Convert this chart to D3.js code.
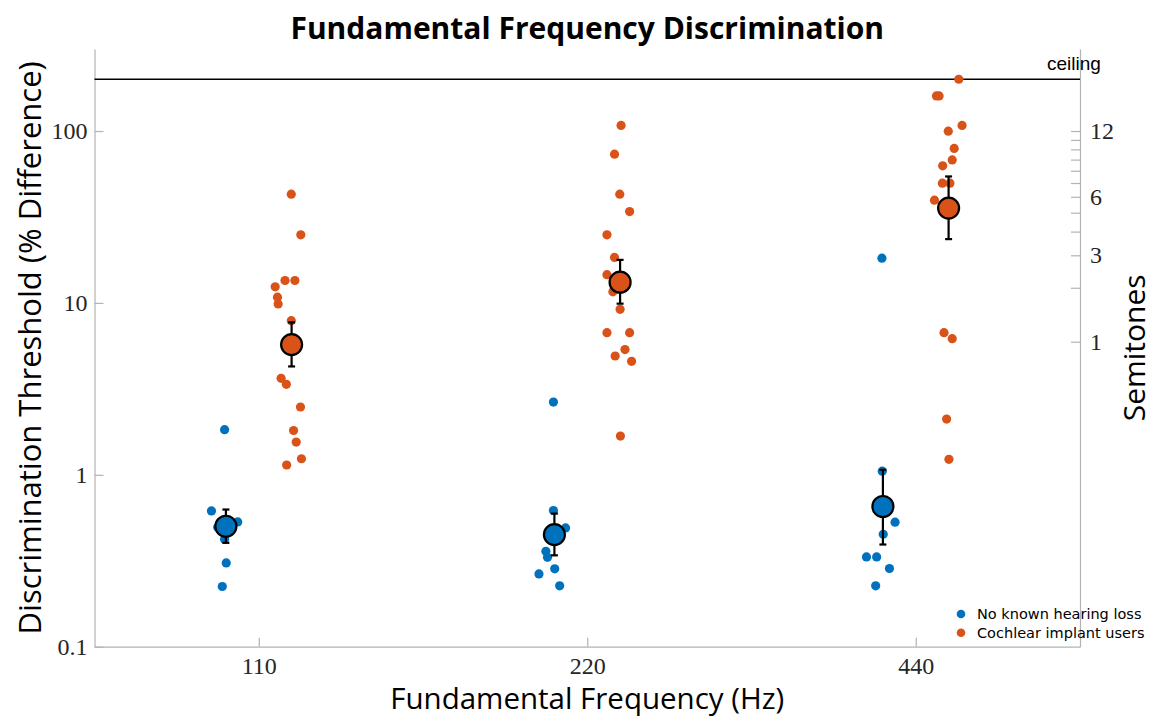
<!DOCTYPE html>
<html><head><meta charset="utf-8">
<script src="https://cdn.jsdelivr.net/npm/d3@7/dist/d3.min.js"></script>
<style>body{margin:0;background:#fff;} svg{display:block;}</style>
</head><body>
<svg id="chart" width="1153" height="720"></svg>
<script>
// ---------- data ----------
const frequencies = [110, 220, 440];
const freqTickLabels = ["110", "220", "440"];
const yTickValues = [0.1, 1, 10, 100];
const yTickLabels = ["0.1", "1", "10", "100"];
const semitoneLabelled = [1, 3, 6, 12];
const semitoneTicks = [1, 2, 3, 4, 5, 6, 7, 8, 9, 10, 11, 12];
const ceilingValue = 200;
const seriesNames = ["No known hearing loss", "Cochlear implant users"];

// individual thresholds (% difference) and horizontal jitter (octaves from nominal F0)
const nh110 = [1.83, 0.616, 0.532, 0.495, 0.422, 0.307, 0.224];
const nh110Jit = [-0.104, -0.144, -0.064, -0.125, -0.104, -0.099, -0.111];
const nh220 = [2.65, 0.62, 0.491, 0.359, 0.331, 0.284, 0.265, 0.226];
const nh220Jit = [-0.103, -0.103, -0.066, -0.126, -0.121, -0.099, -0.147, -0.084];
const nh440 = [18.2, 1.05, 0.530, 0.451, 0.333, 0.333, 0.285, 0.226];
const nh440Jit = [-0.103, -0.102, -0.063, -0.099, -0.150, -0.119, -0.080, -0.122];

const ci110 = [42.9, 24.9, 13.5, 13.5, 12.4, 10.8, 9.86, 7.88, 3.64, 3.36, 2.48, 1.81, 1.55, 1.24, 1.14];
const ci110Jit = [0.099, 0.128, 0.080, 0.110, 0.050, 0.057, 0.059, 0.099, 0.068, 0.084, 0.127, 0.106, 0.114, 0.130, 0.085];
const ci220 = [107.8, 73.3, 42.9, 34.0, 24.9, 18.4, 14.6, 11.6, 9.18, 6.71, 6.71, 5.35, 4.91, 4.57, 1.68];
const ci220Jit = [0.103, 0.083, 0.099, 0.129, 0.060, 0.083, 0.060, 0.078, 0.100, 0.060, 0.129, 0.115, 0.085, 0.135, 0.101];
const ci440 = [200, 160, 160, 107.8, 99.8, 79.2, 67.9, 62.7, 49.7, 49.7, 39.6, 6.71, 6.19, 2.11, 1.23];
const ci440Jit = [0.131, 0.063, 0.071, 0.141, 0.099, 0.117, 0.111, 0.082, 0.081, 0.104, 0.057, 0.086, 0.111, 0.094, 0.101];

// group means with error bar bounds
const nhMean = [0.502, 0.449, 0.654];
const nhLow = [0.402, 0.340, 0.393];
const nhHigh = [0.628, 0.595, 1.07];
const ciMean = [5.72, 13.2, 35.6];
const ciLow = [4.27, 9.9, 23.5];
const ciHigh = [7.7, 17.8, 54.4];
const groupOffset = [-0.1, 0.1]; // octaves

// ---------- layout ----------
const colors = ["#0072BD", "#D95319"];
const m = {left: 94.5, right: 1080, top: 49, bottom: 646.7};
const svg = d3.select("#chart");

const x = d3.scaleLog().base(2).domain([110 / Math.SQRT2, 440 * Math.SQRT2]).range([m.left, m.right]);
const y = d3.scaleLog().domain([0.1, 300]).range([m.bottom, m.top]);
const xOct = (f, oct) => x(f * Math.pow(2, oct));
const semiToPct = s => (Math.pow(2, s / 12) - 1) * 100;

const axisColor = "#b3b3b3";
const tickTextColor = "#262626";
const serif = "'Liberation Serif', 'DejaVu Serif', serif";
const sans = "'Open Sans', 'DejaVu Sans', sans-serif";

// axes (inward ticks)
const gL = svg.append("g").attr("transform", `translate(${m.left},0)`)
  .call(d3.axisLeft(y).tickValues(yTickValues).tickFormat((d, i) => yTickLabels[i]).tickSizeInner(-9).tickSizeOuter(0).tickPadding(7));
const gB = svg.append("g").attr("transform", `translate(0,${m.bottom})`)
  .call(d3.axisBottom(x).tickValues(frequencies).tickFormat((d, i) => freqTickLabels[i]).tickSizeInner(-9).tickSizeOuter(0).tickPadding(10));
const gR = svg.append("g").attr("transform", `translate(${m.right},0)`)
  .call(d3.axisRight(y).tickValues(semitoneTicks.map(semiToPct))
    .tickFormat((d, i) => semitoneLabelled.includes(semitoneTicks[i]) ? String(semitoneTicks[i]) : "")
    .tickSizeInner(-9).tickSizeOuter(0).tickPadding(10));

[gL, gB, gR].forEach(g => {
  g.select(".domain").attr("stroke", axisColor).attr("stroke-width", 1.2);
  g.selectAll(".tick line").attr("stroke", axisColor).attr("stroke-width", 1.2);
  g.selectAll(".tick text").attr("fill", tickTextColor).style("font-family", serif).style("font-size", "24px");
});

// ceiling line
svg.append("line").attr("x1", m.left).attr("x2", m.right).attr("y1", y(ceilingValue)).attr("y2", y(ceilingValue))
  .attr("stroke", "#000").attr("stroke-width", 1.5);
svg.append("text").attr("x", 1047).attr("y", y(ceilingValue) - 9).text("ceiling")
  .style("font-family", "'Liberation Sans', Arial, sans-serif").style("font-size", "19px").attr("fill", "#000");

// individual points
const groups = [
  [nh110, nh110Jit, 0, 0], [nh220, nh220Jit, 1, 0], [nh440, nh440Jit, 2, 0],
  [ci110, ci110Jit, 0, 1], [ci220, ci220Jit, 1, 1], [ci440, ci440Jit, 2, 1]
];
groups.forEach(([vals, jit, fi, si]) => {
  svg.append("g").selectAll("circle").data(vals).join("circle")
    .attr("cx", (d, i) => xOct(frequencies[fi], jit[i]))
    .attr("cy", d => y(d))
    .attr("r", 4.6)
    .attr("fill", colors[si]);
});

// means with error bars
const summaries = [[nhMean, nhLow, nhHigh, 0], [ciMean, ciLow, ciHigh, 1]];
summaries.forEach(([mean, lo, hi, si]) => {
  const g = svg.append("g");
  frequencies.forEach((f, i) => {
    const cx = xOct(f, groupOffset[si]);
    g.append("line").attr("x1", cx).attr("x2", cx).attr("y1", y(lo[i])).attr("y2", y(hi[i]))
      .attr("stroke", "#000").attr("stroke-width", 2.2);
    [lo[i], hi[i]].forEach(v => g.append("line").attr("x1", cx - 3.5).attr("x2", cx + 3.5).attr("y1", y(v)).attr("y2", y(v))
      .attr("stroke", "#000").attr("stroke-width", 2.2));
    g.append("circle").attr("cx", cx).attr("cy", y(mean[i])).attr("r", 10.5)
      .attr("fill", colors[si]).attr("stroke", "#000").attr("stroke-width", 2.2);
  });
});

// titles
svg.append("text").attr("x", (m.left + m.right) / 2).attr("y", 39).attr("text-anchor", "middle")
  .style("font-family", sans).style("font-weight", "bold").style("font-size", "30px").attr("fill", "#000")
  .text("Fundamental Frequency Discrimination");
svg.append("text").attr("x", (m.left + m.right) / 2).attr("y", 709).attr("text-anchor", "middle")
  .style("font-family", sans).style("font-size", "29.5px").attr("fill", "#000")
  .text("Fundamental Frequency (Hz)");
svg.append("text").attr("transform", `translate(41,${(m.top + m.bottom) / 2}) rotate(-90)`).attr("text-anchor", "middle")
  .style("font-family", sans).style("font-size", "31px").attr("fill", "#000")
  .text("Discrimination Threshold (% Difference)");
svg.append("text").attr("transform", `translate(1145,${(m.top + m.bottom) / 2}) rotate(-90)`).attr("text-anchor", "middle")
  .style("font-family", sans).style("font-size", "30px").attr("fill", "#000")
  .text("Semitones");

// legend
const leg = svg.append("g");
seriesNames.forEach((name, i) => {
  const ly = 614 + i * 18.7;
  leg.append("circle").attr("cx", 961).attr("cy", ly).attr("r", 4.3).attr("fill", colors[i]);
  leg.append("text").attr("x", 977).attr("y", ly).attr("dy", "0.35em").text(name)
    .style("font-family", "'DejaVu Sans', sans-serif").style("font-size", "14.5px").attr("fill", "#000");
});
</script>
</body></html>
